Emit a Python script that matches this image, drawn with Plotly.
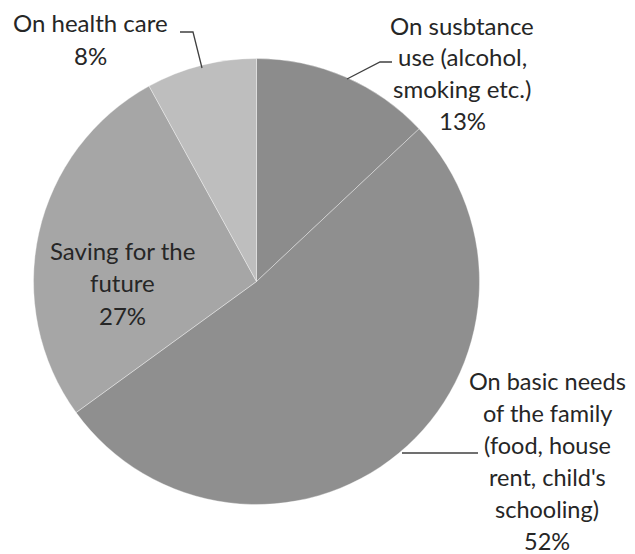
import plotly.graph_objects as go

# ---- data ----
categories = [
    "On susbtance use (alcohol, smoking etc.)",
    "On basic needs of the family (food, house rent, child's schooling)",
    "Saving for the future",
    "On health care",
]
values = [13, 52, 27, 8]
colors = ["#8c8c8c", "#8f8f8f", "#a6a6a6", "#bebebe"]
label_lines = [
    ["On susbtance", "use (alcohol,", "smoking etc.)"],
    ["On basic needs", "of the family", "(food, house", "rent, child's", "schooling)"],
    ["Saving for the", "future"],
    ["On health care"],
]

# the page places the figure 8px in from the top-left corner
OFF = 8
W, H = 635 - OFF, 554 - OFF
cx, cy, r = 256.5 - OFF, 281.5 - OFF, 223


def px(x, y):
    return (x - OFF) / W, 1 - (y - OFF) / H


fig = go.Figure(go.Pie(
    labels=categories,
    values=values,
    sort=False,
    direction="clockwise",
    rotation=0,
    textinfo="none",
    marker=dict(colors=colors, line=dict(color="rgba(255,255,255,0.35)", width=1)),
    domain=dict(x=[(cx - r) / W, (cx + r) / W], y=[(H - cy - r) / H, (H - cy + r) / H]),
    showlegend=False,
    hoverinfo="label+percent",
))

# label anchor (center x, first-line center y) in reference pixels, line spacing
label_pos = [(462, 25), (547, 381), (122, 250), (91, 22)]
spacing = [31.7, 32.0, 32.5, 33]
sizes = [24, 23.5, 24, 24]

total = sum(values)
for lines, val, (lx, ly), sp, fs in zip(label_lines, values, label_pos, spacing, sizes):
    all_lines = lines + [f"{round(100 * val / total)}%"]
    for i, t in enumerate(all_lines):
        x, y = px(lx, ly + i * sp)
        fig.add_annotation(
            x=x, y=y, xref="paper", yref="paper",
            text=t, showarrow=False, xanchor="center", yanchor="middle",
            font=dict(family="Lato", size=fs, color="#262626"),
        )

# leader lines
leaders = [
    [(347, 79), (380, 62), (392, 62)],
    [(402, 453), (478, 453)],
    [(202, 68), (193, 32), (180, 32)],
]
for pts in leaders:
    path = "M " + " L ".join("{},{}".format(*px(x, y)) for x, y in pts)
    fig.add_shape(type="path", xref="paper", yref="paper", path=path,
                  line=dict(color="#404040", width=1.3))

fig.update_layout(
    width=W, height=H,
    margin=dict(l=0, r=0, t=0, b=0),
    paper_bgcolor="white", plot_bgcolor="white",
)
fig.write_html("out.html")
